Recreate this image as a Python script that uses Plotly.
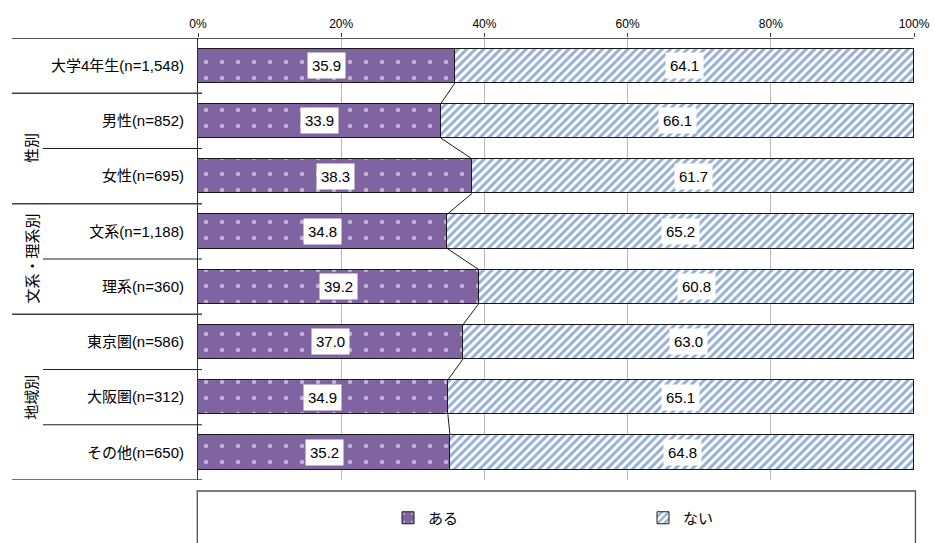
import plotly.graph_objects as go

# Survey result: share of students answering "ある" / "ない" (%)
categories = ["大学4年生(n=1,548)", "男性(n=852)", "女性(n=695)", "文系(n=1,188)",
              "理系(n=360)", "東京圏(n=586)", "大阪圏(n=312)", "その他(n=650)"]
aru = [35.9, 33.9, 38.3, 34.8, 39.2, 37.0, 34.9, 35.2]
nai = [64.1, 66.1, 61.7, 65.2, 60.8, 63.0, 65.1, 64.8]
series_names = ["ある", "ない"]
group_labels = ["性別", "文系・理系別", "地域別"]
group_spans = [(1, 2), (3, 4), (5, 7)]
x_ticks = [0, 20, 40, 60, 80, 100]

FONT = "Liberation Sans, Noto Sans CJK JP, sans-serif"
BAR_W = 0.62
ypos = list(range(len(categories)))

fig = go.Figure()
fig.add_trace(go.Bar(
    y=ypos, x=aru, orientation="h", name=series_names[0], width=BAR_W,
    legend="legend",
    marker=dict(color="#8064A2", line=dict(color="#1a1a1a", width=1),
                pattern=dict(shape=".", fgcolor="white", bgcolor="#8064A2",
                             size=16, solidity=0.06, fillmode="overlay")),
    hoverinfo="skip",
))
fig.add_trace(go.Bar(
    y=ypos, x=nai, orientation="h", name=series_names[1], width=BAR_W,
    legend="legend2",
    marker=dict(color="white", line=dict(color="#1a1a1a", width=1),
                pattern=dict(shape="/", fgcolor="#2a5fab", bgcolor="white",
                             size=6, solidity=0.5, fillmode="overlay")),
    hoverinfo="skip",
))

annotations = []
for i, (a, n) in enumerate(zip(aru, nai)):
    for xc, v in ((a / 2, a), (a + n / 2, n)):
        annotations.append(dict(
            x=xc, y=i, xref="x", yref="y", text=f"{v:.1f}", showarrow=False,
            font=dict(family=FONT, size=15, color="black"),
            bgcolor="white", borderpad=4,
        ))

# Vertical group captions on the far left
for label, (r0, r1) in zip(group_labels, group_spans):
    annotations.append(dict(
        x=(21 - 198) / 716, y=(r0 + r1) / 2, xref="paper", yref="y",
        text=label, textangle=-90, showarrow=False,
        font=dict(family=FONT, size=15, color="black"),
    ))

shapes = []
# Series connector lines between adjacent bars
for i in range(len(aru) - 1):
    shapes.append(dict(type="line", xref="x", yref="y",
                       x0=aru[i], y0=i + BAR_W / 2, x1=aru[i + 1], y1=i + 1 - BAR_W / 2,
                       line=dict(color="#1a1a1a", width=1)))

# Row separators in the label area
x_left = (12 - 198) / 716
x_inner = (43 - 198) / 716
x_end = (202 - 198) / 716
for yb in (0.5, 2.5, 4.5, 7.5):
    shapes.append(dict(type="line", xref="paper", yref="y", x0=x_left, x1=x_end,
                       y0=yb, y1=yb, line=dict(color="#404040", width=1.3)))
for yb in (1.5, 3.5, 5.5, 6.5):
    shapes.append(dict(type="line", xref="paper", yref="y", x0=x_inner, x1=x_end,
                       y0=yb, y1=yb, line=dict(color="#202020", width=1)))
# Top border line spanning the label area and plot
shapes.append(dict(type="line", xref="paper", yref="y", x0=x_left, x1=1,
                   y0=-0.5, y1=-0.5, line=dict(color="#202020", width=1.3)))
# Legend frame
shapes.append(dict(type="rect", xref="paper", yref="paper",
                   x0=-0.001, x1=1.002, y0=-0.3, y1=(480 - 491) / 442,
                   line=dict(color="#505050", width=1.3), fillcolor="rgba(0,0,0,0)"))

legend_common = dict(orientation="h", xanchor="left", yanchor="middle",
                     y=(480 - 518) / 442, itemwidth=30,
                     font=dict(family=FONT, size=15, color="black"),
                     bgcolor="rgba(0,0,0,0)")

fig.update_layout(
    width=935, height=543,
    margin=dict(l=198, r=21, t=38, b=63, autoexpand=False),
    paper_bgcolor="white", plot_bgcolor="white",
    barmode="stack", bargap=0,
    font=dict(family=FONT, size=12, color="black"),
    showlegend=True,
    legend=dict(x=(388 - 198) / 716, **legend_common),
    legend2=dict(x=(643 - 198) / 716, **legend_common),
    annotations=annotations,
    shapes=shapes,
)
fig.update_xaxes(
    range=[0, 100], side="top", tickvals=x_ticks,
    ticktext=[f"{t}%" for t in x_ticks],
    showgrid=True, gridcolor="#b8b8b8", gridwidth=1,
    showline=False, zeroline=False, automargin=False,
    ticks="outside", ticklen=4, tickcolor="#404040",
    tickfont=dict(family=FONT, size=12, color="black"),
)
fig.update_yaxes(
    range=[7.5, -0.5], tickvals=ypos, ticktext=categories,
    showgrid=False, zeroline=False, showline=True, linecolor="#303030", linewidth=1,
    ticks="", ticklabelstandoff=10, automargin=False,
    tickfont=dict(family=FONT, size=15, color="black"),
)

fig.write_html("out.html")
